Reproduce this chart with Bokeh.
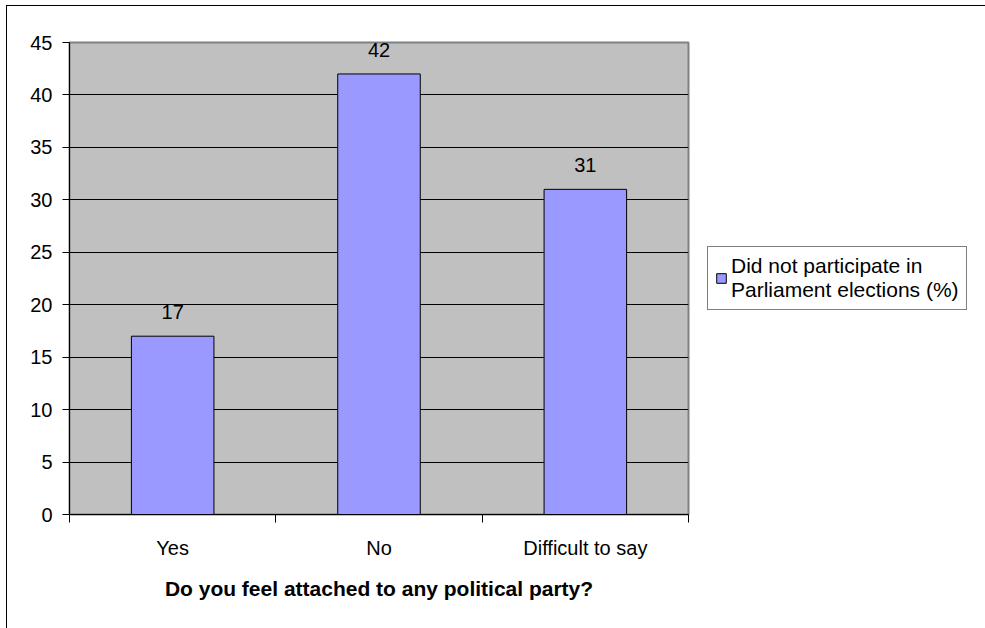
from bokeh.plotting import figure
from bokeh.models import (FixedTicker, Legend, LegendItem, GlobalInlineStyleSheet,
                          InlineStyleSheet, ColumnDataSource, Range1d)
from bokeh.core.properties import value
from bokeh.embed import file_html
from bokeh.resources import INLINE

# Survey answers and shares (%)
categories = ["Yes", "No", "Difficult to say"]
shares = [17, 42, 31]
series_name = "Did not participate in\nParliament elections (%)"
x_title = "Do you feel attached to any political party?"
y_ticks = [0, 5, 10, 15, 20, 25, 30, 35, 40, 45]

FONT = "Liberation Sans"

centers = [i + 0.5 for i in range(len(categories))]
bounds = [float(i) for i in range(len(categories) + 1)]
src = ColumnDataSource(dict(x=centers, top=shares,
                            label=[str(v) for v in shares]))

p = figure(frame_width=619, frame_height=472,
           x_range=Range1d(0, len(categories)), y_range=Range1d(0, y_ticks[-1]),
           output_backend="svg", toolbar_location=None,
           min_border_left=69, min_border_right=297,
           min_border_top=42, min_border_bottom=114)

# thin black chart border; only its top and left edges fall on the page
border_css = ("content: ''; position: absolute; left: 6px; top: 5px; "
              "right: 0; bottom: 0; border-top: 1px solid black; "
              "border-left: 1px solid black; pointer-events: none; z-index: 50;")
p.stylesheets = [
    GlobalInlineStyleSheet(css="html, body { overflow: hidden; margin: 0; }"),
    InlineStyleSheet(css=":host { position: relative; } "
                         ":host::after { " + border_css + " } "
                         ".bk-Canvas::after { " + border_css + " }"),
]
p.background_fill_color = "#C0C0C0"
p.border_fill_color = "white"
p.outline_line_color = "#808080"
p.outline_line_width = 2

bars = p.vbar(x="x", top="top", width=0.4, source=src,
              fill_color="#9999FF", line_color="black", line_width=1)

p.text(x="x", y="top", text="label", source=src, y_offset=-24,
       text_align="center", text_baseline="alphabetic",
       text_font=value(FONT), text_font_size="20px", text_color="black")

# grid
p.xgrid.visible = False
p.ygrid.ticker = FixedTicker(ticks=y_ticks[1:-1])
p.ygrid.grid_line_color = "black"
p.ygrid.grid_line_width = 1

# x axis: labels at centers, ticks at category boundaries
xa = p.xaxis[0]
xa.ticker = FixedTicker(ticks=centers, minor_ticks=bounds)
xa.major_label_overrides = {c: name for c, name in zip(centers, categories)}
xa.major_tick_in = 0
xa.major_tick_out = 0
xa.minor_tick_in = 0
xa.minor_tick_out = 8
xa.minor_tick_line_color = "black"
xa.axis_line_color = "black"
xa.major_label_standoff = 14
xa.major_label_text_font = FONT
xa.major_label_text_font_size = "20px"
xa.major_label_text_color = "black"
xa.axis_label = x_title
xa.axis_label_text_font = FONT
xa.axis_label_text_font_size = "21px"
xa.axis_label_text_font_style = "bold"
xa.axis_label_text_color = "black"
xa.axis_label_standoff = 15

ya = p.yaxis[0]
ya.ticker = FixedTicker(ticks=y_ticks)
ya.major_tick_in = 0
ya.major_tick_out = 7
ya.minor_tick_line_color = None
ya.axis_line_color = "black"
ya.major_tick_line_color = "black"
ya.major_label_standoff = 10
ya.major_label_text_font = FONT
ya.major_label_text_font_size = "20px"
ya.major_label_text_color = "black"

legend = Legend(items=[LegendItem(label=series_name, renderers=[bars])],
                location="center_left", orientation="vertical",
                border_line_color="black", border_line_width=1,
                background_fill_color="white", background_fill_alpha=1,
                padding=7, margin=19, spacing=0,
                glyph_width=12, glyph_height=12, label_standoff=4,
                label_text_font=FONT, label_text_font_size="21px",
                label_text_color="black")
p.add_layout(legend, "right")

open("out.html", "w").write(file_html(p, INLINE))
